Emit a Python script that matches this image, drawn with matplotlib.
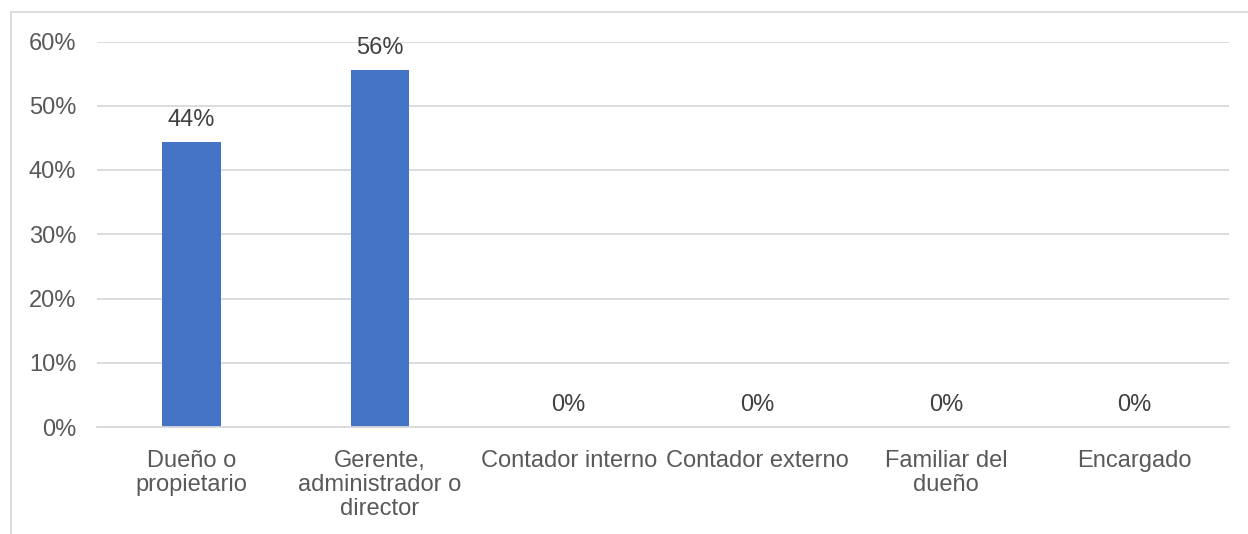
import matplotlib.pyplot as plt
from matplotlib.lines import Line2D
from matplotlib.ticker import PercentFormatter

# Datos
categorias = ['Dueño o\npropietario', 'Gerente,\nadministrador o\ndirector',
              'Contador interno', 'Contador externo', 'Familiar del\ndueño', 'Encargado']
valores = [0.444, 0.556, 0.0, 0.0, 0.0, 0.0]
etiquetas = ['44%', '56%', '0%', '0%', '0%', '0%']
yticks = [0, 0.1, 0.2, 0.3, 0.4, 0.5, 0.6]

gris = '#595959'
fs = 17
plt.rcParams['font.family'] = ['Liberation Sans', 'DejaVu Sans']

fig = plt.figure(figsize=(12.48, 5.34), dpi=100)
ax = fig.add_axes([97 / 1248, 1 - 427 / 534, (1229 - 97) / 1248, (427 - 41.5) / 534])

x = range(len(categorias))
ax.bar(x, valores, width=0.31, color='#4472C4', zorder=3)

for xi, v, t in zip(x, valores, etiquetas):
    ax.annotate(t, (xi, v), xytext=(0, 8), textcoords='offset points',
                ha='center', va='bottom', fontsize=fs, color='#404040')

ax.set_xlim(-0.5, len(categorias) - 0.5)
ax.set_ylim(0, 0.6)
ax.set_yticks(yticks)
ax.yaxis.set_major_formatter(PercentFormatter(1.0, decimals=0))
ax.set_xticks(list(x))
ax.set_xticklabels(categorias, linespacing=1.12)
ax.tick_params(axis='y', length=0, pad=15, labelsize=fs, labelcolor=gris)
ax.tick_params(axis='x', length=0, pad=16.5, labelsize=fs, labelcolor=gris)
ax.grid(axis='y', color='#D9D9D9', linewidth=1.3, zorder=0)
for s in ['top', 'right', 'left']:
    ax.spines[s].set_visible(False)
ax.spines['bottom'].set_color('#D9D9D9')
ax.spines['bottom'].set_linewidth(1.3)
ax.spines['bottom'].set_zorder(4)

# marco del gráfico
yt = 1 - 11.5 / 534
xl = 10.5 / 1248
fig.add_artist(Line2D([xl, 1.0], [yt, yt], color='#D9D9D9', linewidth=1.3))
fig.add_artist(Line2D([xl, xl], [0, yt], color='#D9D9D9', linewidth=1.3))

fig.savefig('out.png', dpi=100)
